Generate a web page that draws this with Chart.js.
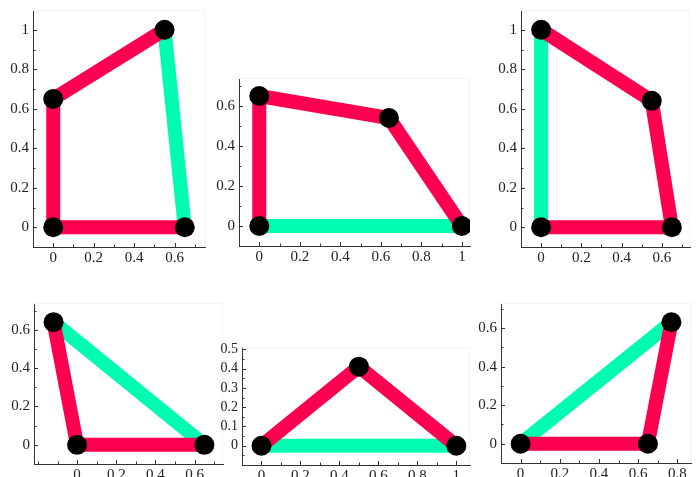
<!DOCTYPE html>
<html>
<head>
<meta charset="utf-8">
<script src="https://cdn.jsdelivr.net/npm/chart.js@4.4.0/dist/chart.umd.min.js"></script>
<style>
  body { margin: 0; background: #fff; }
  #wrap { position: relative; width: 697px; height: 477px; overflow: hidden; }
  .panel { position: absolute; }
</style>
</head>
<body>
<div id="wrap"></div>
<script>
// edges of each graph: red path, green path, and the nodes
const p1Red = [[0.65, 0], [0, 0], [0, 0.65], [0.55, 1]];
const p1Green = [[0.55, 1], [0.65, 0]];
const p1Nodes = [[0, 0], [0, 0.65], [0.55, 1], [0.65, 0]];

const p2Red = [[0, 0], [0, 0.65], [0.64, 0.54], [1, 0]];
const p2Green = [[0, 0], [1, 0]];
const p2Nodes = [[0, 0], [0, 0.65], [0.64, 0.54], [1, 0]];

const p3Red = [[0, 1], [0.55, 0.64], [0.65, 0], [0, 0]];
const p3Green = [[0, 0], [0, 1]];
const p3Nodes = [[0, 0], [0, 1], [0.55, 0.64], [0.65, 0]];

const p4Red = [[-0.12, 0.64], [0, 0], [0.65, 0]];
const p4Green = [[-0.12, 0.64], [0.65, 0]];
const p4Nodes = [[-0.12, 0.64], [0, 0], [0.65, 0]];

const p5Red = [[0, 0], [0.5, 0.41], [1, 0]];
const p5Green = [[0, 0], [1, 0]];
const p5Nodes = [[0, 0], [0.5, 0.41], [1, 0]];

const p6Red = [[0, 0], [0.65, 0], [0.77, 0.63]];
const p6Green = [[0, 0], [0.77, 0.63]];
const p6Nodes = [[0, 0], [0.65, 0], [0.77, 0.63]];

// tick labels
const ticksTo06 = [0, 0.2, 0.4, 0.6];
const ticksTo08 = [0, 0.2, 0.4, 0.6, 0.8];
const ticksTo1 = [0, 0.2, 0.4, 0.6, 0.8, 1];
const ticksTenths = [0, 0.1, 0.2, 0.3, 0.4, 0.5];
const minorA = [-0.1, 0.1, 0.3, 0.5, 0.7, 0.9, 1.1];
const minorB = [-0.2, -0.1, 0.1, 0.3, 0.5, 0.7];
const minorC = [-0.05, 0.05, 0.15, 0.25, 0.35, 0.45];

const RED = '#ff0050';
const GREEN = '#00fcb0';

const panels = [
  { box: [33, 7, 205, 247], x: [-0.1, 0.75], y: [-0.1, 1.1], xt: ticksTo06, xm: minorA, yt: ticksTo1, ym: minorA, red: p1Red, green: p1Green, nodes: p1Nodes },
  { box: [239, 75, 470, 246], x: [-0.1, 1.04], y: [-0.1, 0.74], xt: ticksTo1, xm: minorA, yt: ticksTo06, ym: minorA, red: p2Red, green: p2Green, nodes: p2Nodes },
  { box: [521, 7, 690, 247], x: [-0.1, 0.74], y: [-0.1, 1.1], xt: ticksTo06, xm: minorA, yt: ticksTo1, ym: minorA, red: p3Red, green: p3Green, nodes: p3Nodes },
  { box: [34, 300, 223, 464], x: [-0.22, 0.745], y: [-0.1, 0.74], xt: ticksTo06, xm: minorB, yt: ticksTo06, ym: minorA, red: p4Red, green: p4Green, nodes: p4Nodes },
  { box: [242, 345, 470, 465], x: [-0.1, 1.07], y: [-0.1, 0.51], xt: ticksTo1, xm: minorA, yt: ticksTenths, ym: minorC, red: p5Red, green: p5Green, nodes: p5Nodes },
  { box: [501, 300, 691, 463], x: [-0.1, 0.87], y: [-0.1, 0.73], xt: ticksTo08, xm: minorA, yt: ticksTo06, ym: minorA, red: p6Red, green: p6Green, nodes: p6Nodes }
];

const toXY = pts => pts.map(p => ({ x: p[0], y: p[1] }));

// Mathematica-like inward ticks and a faint frame
const tickMarks = {
  id: 'tickMarks',
  beforeDatasetsDraw(chart) {
    const { ctx, chartArea: a, scales: { x, y } } = chart;
    ctx.save();
    ctx.strokeStyle = '#f2f2f2';
    ctx.lineWidth = 1;
    ctx.beginPath();
    ctx.moveTo(a.left, a.top + 0.5);
    ctx.lineTo(a.right - 0.5, a.top + 0.5);
    ctx.lineTo(a.right - 0.5, a.bottom);
    ctx.stroke();
    ctx.strokeStyle = '#333';
    ctx.beginPath();
    x.ticks.forEach(t => {
      const px = Math.round(x.getPixelForValue(t.value)) + 0.5;
      const len = t.isMinor ? 2.5 : 4;
      ctx.moveTo(px, a.bottom);
      ctx.lineTo(px, a.bottom - len);
    });
    y.ticks.forEach(t => {
      const py = Math.round(y.getPixelForValue(t.value)) + 0.5;
      const len = t.isMinor ? 2.5 : 4;
      ctx.moveTo(a.left, py);
      ctx.lineTo(a.left + len, py);
    });
    ctx.stroke();
    ctx.restore();
  }
};

function axis(range, major, minor, horizontal, small) {
  return {
    type: 'linear',
    min: range[0],
    max: range[1],
    afterBuildTicks: s => {
      const all = major.map(v => ({ value: v }))
        .concat(minor.filter(v => v > range[0] && v < range[1]).map(v => ({ value: v, isMinor: true })));
      all.sort((a, b) => a.value - b.value);
      s.ticks = all;
    },
    afterFit: s => {
      if (horizontal) s.height = 28; else s.width = 40;
    },
    grid: { display: false, drawTicks: false },
    border: { display: true, color: '#333', width: 1 },
    ticks: {
      autoSkip: false,
      maxRotation: 0,
      padding: horizontal ? 2 : 4,
      color: '#222',
      font: { family: '"Liberation Serif", "DejaVu Serif", serif', size: small ? 14 : 15 },
      callback: (v, i, ts) => ts[i] && ts[i].isMinor ? '' : String(+v.toFixed(2))
    }
  };
}

const wrap = document.getElementById('wrap');
panels.forEach(p => {
  const padL = 40, padT = 10, padR = 10, padB = 28;
  const w = p.box[2] - p.box[0] + padL + padR;
  const h = p.box[3] - p.box[1] + padT + padB;
  const div = document.createElement('div');
  div.className = 'panel';
  div.style.left = (p.box[0] - padL) + 'px';
  div.style.top = (p.box[1] - padT) + 'px';
  const cv = document.createElement('canvas');
  cv.width = w;
  cv.height = h;
  div.appendChild(cv);
  wrap.appendChild(div);

  new Chart(cv, {
    type: 'scatter',
    data: {
      datasets: [
        { data: toXY(p.nodes), pointRadius: 10, pointBackgroundColor: '#000', pointBorderWidth: 0, showLine: false, order: 0 },
        { data: toXY(p.red), showLine: true, borderColor: RED, borderWidth: 14, borderJoinStyle: 'round', pointRadius: 0, order: 1 },
        { data: toXY(p.green), showLine: true, borderColor: GREEN, borderWidth: 14, pointRadius: 0, order: 2 }
      ]
    },
    options: {
      responsive: false,
      animation: false,
      layout: { padding: { left: 0, top: padT, right: padR, bottom: 0 } },
      plugins: { legend: { display: false }, tooltip: { enabled: false } },
      scales: {
        x: axis(p.x, p.xt, p.xm, true, false),
        y: axis(p.y, p.yt, p.ym, false, p.yt === ticksTenths)
      }
    },
    plugins: [tickMarks]
  });
});
</script>
</body>
</html>
